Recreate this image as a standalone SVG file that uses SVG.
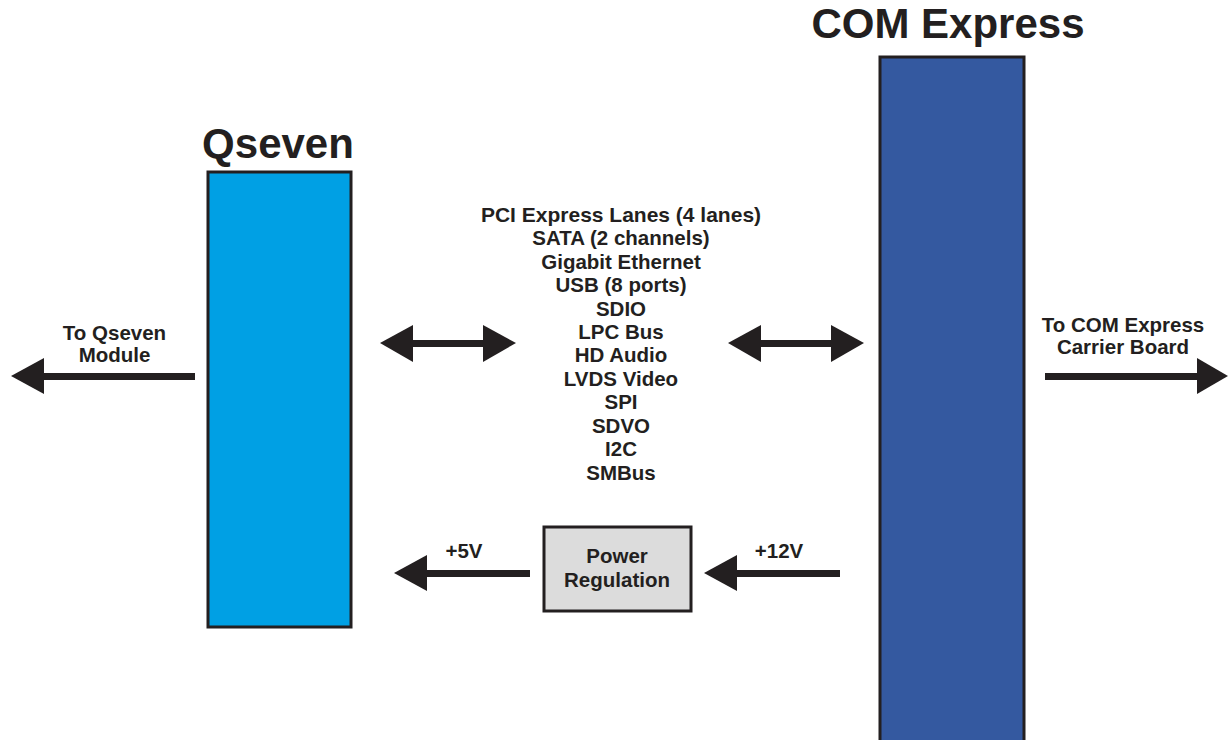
<svg xmlns="http://www.w3.org/2000/svg" width="1228" height="740" viewBox="0 0 1228 740">
<style>
text{font-family:"Liberation Sans",Arial,sans-serif;font-weight:bold;fill:#231f20;text-anchor:middle}
.t{font-size:42px}
.l{font-size:20.5px}
.ar{fill:#231f20}
</style>
<rect width="1228" height="740" fill="#fff"/>
<g id="qseven">
<rect x="208" y="172" width="143" height="455" fill="#00a0e4" stroke="#231f20" stroke-width="3"/>
<text class="t" x="278" y="158">Qseven</text>
</g>
<g id="comexpress">
<rect x="880" y="57" width="144" height="700" fill="#3459a0" stroke="#231f20" stroke-width="3"/>
<text class="t" x="948" y="38">COM Express</text>
</g>
<g id="power">
<rect x="544" y="527" width="147" height="84" fill="#dcdcdc" stroke="#231f20" stroke-width="3"/>
<text class="l" x="617" y="562.5">Power</text>
<text class="l" x="617" y="587">Regulation</text>
</g>
<g id="signals">
<text class="l" x="621" y="221.5" style="font-size:21px">PCI Express Lanes (4 lanes)</text>
<text class="l" x="621" y="245">SATA (2 channels)</text>
<text class="l" x="621" y="268.5">Gigabit Ethernet</text>
<text class="l" x="621" y="292">USB (8 ports)</text>
<text class="l" x="621" y="315.5">SDIO</text>
<text class="l" x="621" y="339">LPC Bus</text>
<text class="l" x="621" y="362">HD Audio</text>
<text class="l" x="621" y="385.5">LVDS Video</text>
<text class="l" x="621" y="409">SPI</text>
<text class="l" x="621" y="432.5">SDVO</text>
<text class="l" x="621" y="456">I2C</text>
<text class="l" x="621" y="479.5">SMBus</text>
</g>
<g id="connectors">
<g id="to-qseven">
<rect class="ar" x="42" y="373" width="153" height="7"/>
<polygon class="ar" points="11,376 44,358 44,394"/>
<text class="l" x="114.5" y="340">To Qseven</text>
<text class="l" x="114.5" y="362">Module</text>
</g>
<g id="to-carrier">
<rect class="ar" x="1045" y="373" width="154" height="7"/>
<polygon class="ar" points="1228,376 1197,358 1197,394"/>
<text class="l" x="1123" y="331.5">To COM Express</text>
<text class="l" x="1123" y="353.5">Carrier Board</text>
</g>
<g id="bus-left">
<rect class="ar" x="410" y="340" width="76" height="7"/>
<polygon class="ar" points="380,343 413,325 413,362"/>
<polygon class="ar" points="516,343 483,325 483,362"/>
</g>
<g id="bus-right">
<rect class="ar" x="758" y="340" width="76" height="7"/>
<polygon class="ar" points="728,343 761,325 761,362"/>
<polygon class="ar" points="864,343 831,325 831,362"/>
</g>
<g id="v5">
<rect class="ar" x="425" y="570" width="105" height="7"/>
<polygon class="ar" points="394,573 427,555 427,591"/>
<text class="l" x="464" y="558">+5V</text>
</g>
<g id="v12">
<rect class="ar" x="735" y="570" width="105" height="7"/>
<polygon class="ar" points="704,573 737,555 737,591"/>
<text class="l" x="779" y="558">+12V</text>
</g>
</g>
</svg>
